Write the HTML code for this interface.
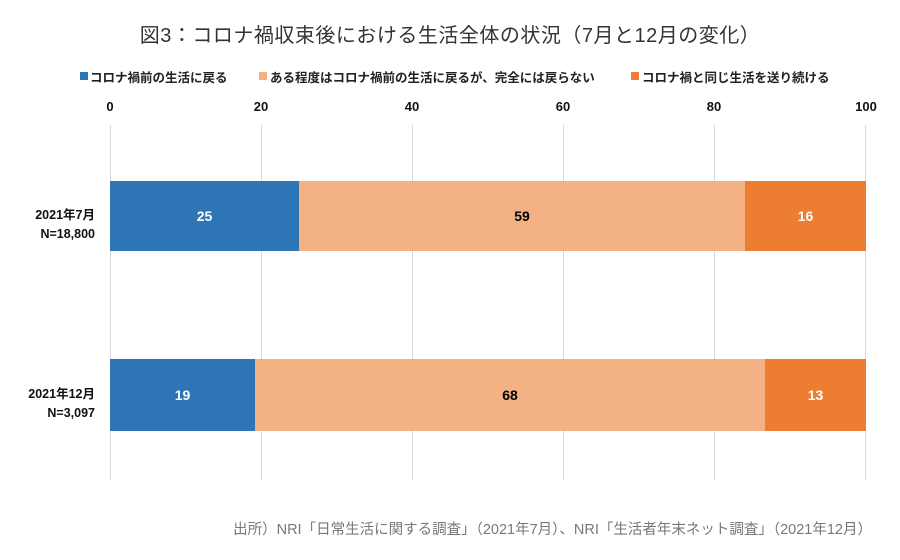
<!DOCTYPE html>
<html><head><meta charset="utf-8"><style>
body{margin:0;width:900px;height:560px;background:#fff;position:relative;overflow:hidden;font-family:"Liberation Sans","Noto Sans CJK JP",sans-serif;}
.a{position:absolute;white-space:nowrap;}
.t{left:0;width:900px;text-align:center;top:19px;font-size:20px;color:#333;letter-spacing:0.5px;}
.lg{font-size:12.5px;font-weight:bold;color:#222;top:67px;}
.sq{position:absolute;width:8px;height:8px;top:72px;}
.tk{font-size:13px;font-weight:bold;top:99px;width:40px;text-align:center;color:#111;}
.g{position:absolute;top:125px;width:1px;height:355px;background:#d9d9d9;}
.b{position:absolute;display:flex;align-items:center;justify-content:center;font-size:14px;font-weight:bold;}
.yl{font-size:12.5px;font-weight:bold;text-align:right;right:805px;line-height:19px;color:#111;}
</style></head><body>
<div class="a t">図3：コロナ禍収束後における生活全体の状況（7月と12月の変化）</div>
<div class="sq" style="left:80px;background:#2e75b6"></div><div class="a lg" style="left:90px">コロナ禍前の生活に戻る</div>
<div class="sq" style="left:259px;background:#f4b183"></div><div class="a lg" style="left:270px">ある程度はコロナ禍前の生活に戻るが、完全には戻らない</div>
<div class="sq" style="left:631px;background:#ed7d31"></div><div class="a lg" style="left:642px">コロナ禍と同じ生活を送り続ける</div>
<div class="a tk" style="left:90px">0</div><div class="a tk" style="left:241px">20</div><div class="a tk" style="left:392px">40</div><div class="a tk" style="left:543px">60</div><div class="a tk" style="left:694px">80</div><div class="a tk" style="left:846px">100</div>
<div class="g" style="left:110px"></div><div class="g" style="left:261px"></div><div class="g" style="left:412px"></div><div class="g" style="left:563px"></div><div class="g" style="left:714px"></div><div class="g" style="left:865px"></div>
<div class="b" style="left:110px;width:189px;top:181px;height:70px;background:#2e75b6;color:#fff">25</div>
<div class="b" style="left:299px;width:446px;top:181px;height:70px;background:#f4b183;color:#000">59</div>
<div class="b" style="left:745px;width:121px;top:181px;height:70px;background:#ed7d31;color:#fff">16</div>
<div class="b" style="left:110px;width:145px;top:359px;height:72px;background:#2e75b6;color:#fff">19</div>
<div class="b" style="left:255px;width:510px;top:359px;height:72px;background:#f4b183;color:#000">68</div>
<div class="b" style="left:765px;width:101px;top:359px;height:72px;background:#ed7d31;color:#fff">13</div>
<div class="a yl" style="top:206px">2021年7月<br>N=18,800</div>
<div class="a yl" style="top:385px">2021年12月<br>N=3,097</div>
<div class="a" style="right:28px;top:518px;font-size:14.5px;color:#777">出所）NRI「日常生活に関する調査」（2021年7月）、NRI「生活者年末ネット調査」（2021年12月）</div>
</body></html>
